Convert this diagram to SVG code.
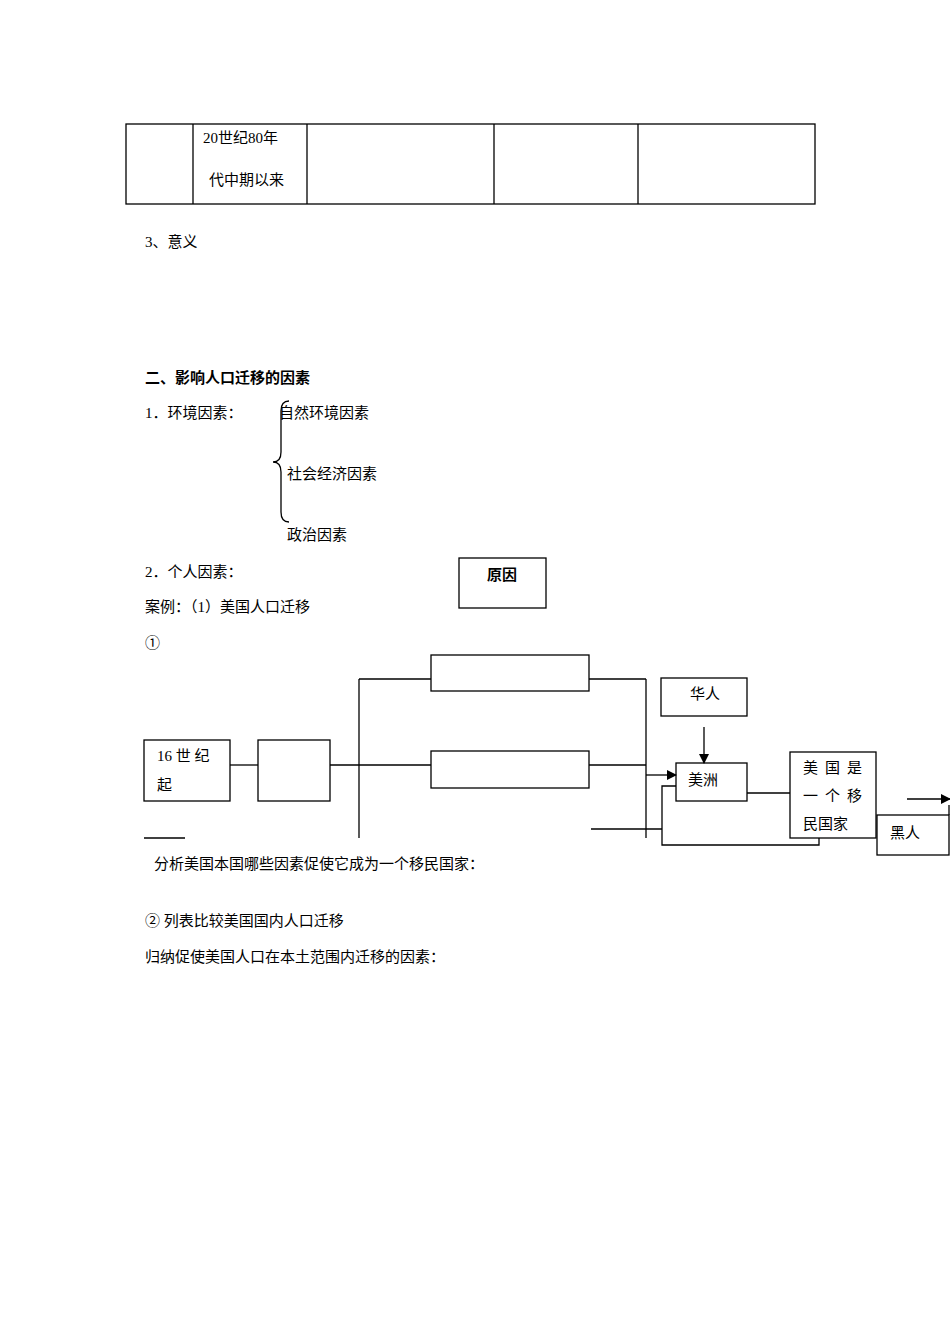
<svg xmlns="http://www.w3.org/2000/svg" width="950" height="1344" viewBox="0 0 950 1344">
<style>
text{font-family:"Liberation Serif","Noto Sans CJK SC",serif;font-size:15px;fill:#000}
.b{font-weight:bold}
rect,line,path,polyline{fill:none;stroke:#000;stroke-width:1.3}
</style>
<defs><marker id="a" markerWidth="10" markerHeight="10" refX="9" refY="5" orient="auto" markerUnits="userSpaceOnUse"><path d="M0,0L10,5L0,10z" style="fill:#000;stroke:none"/></marker></defs>
<rect width="950" height="1344" style="fill:#fff;stroke:none"/>
<g id="table">
<rect x="126" y="124" width="689" height="80"/>
<line x1="193" y1="124" x2="193" y2="204"/><line x1="307" y1="124" x2="307" y2="204"/>
<line x1="494" y1="124" x2="494" y2="204"/><line x1="638" y1="124" x2="638" y2="204"/>
<text x="203" y="143">20世纪80年</text><text x="209" y="185">代中期以来</text>
</g>
<text x="145" y="247">3、意义</text>
<text x="145" y="383" class="b">二、影响人口迁移的因素</text>
<text x="145" y="418">1．环境因素：</text>
<text x="279" y="418">自然环境因素</text>
<text x="287" y="479">社会经济因素</text>
<text x="287" y="540">政治因素</text>
<path d="M289,401 Q281,401 281,411 L281,452 Q281,462 273,462 Q281,462 281,472 L281,512 Q281,522 289,522"/>
<text x="145" y="577">2．个人因素：</text>
<g id="reason"><rect x="459" y="558" width="87" height="50"/><text x="487" y="580" class="b">原因</text></g>
<text x="145" y="612">案例：（1）美国人口迁移</text>
<text x="145" y="648">①</text>
<g id="n16"><rect x="144" y="740" width="86" height="61"/><text x="157" y="761">16 世 纪</text><text x="157" y="790">起</text></g>
<g id="nempty"><rect x="258" y="740" width="72" height="61"/></g>
<g id="ntop"><rect x="431" y="655" width="158" height="36"/></g>
<g id="nmid"><rect x="431" y="751" width="158" height="37"/></g>
<g id="nhua"><rect x="661" y="678" width="86" height="38"/><text x="690" y="699">华人</text></g>
<g id="nmz"><rect x="676" y="763" width="71" height="38"/><text x="688" y="785">美洲</text></g>
<g id="nus"><rect x="790" y="752" width="86" height="86"/><text x="803" y="773" style="letter-spacing:7px">美国是</text><text x="803" y="801" style="letter-spacing:7px">一个移</text><text x="803" y="829">民国家</text></g>
<g id="nblack"><rect x="877" y="815" width="72" height="40"/><text x="890" y="838">黑人</text></g>
<g id="connectors">
<line x1="230" y1="765" x2="258" y2="765"/><line x1="330" y1="765" x2="431" y2="765"/>
<line x1="359" y1="679" x2="359" y2="838"/><line x1="359" y1="679" x2="431" y2="679"/>
<line x1="589" y1="679" x2="646" y2="679"/><line x1="589" y1="765" x2="646" y2="765"/>
<line x1="646" y1="679" x2="646" y2="838"/>
<line x1="646" y1="775" x2="676" y2="775" marker-end="url(#a)"/>
<line x1="704" y1="727" x2="704" y2="763" marker-end="url(#a)"/>
<line x1="747" y1="793" x2="790" y2="793"/>
<line x1="591" y1="829" x2="662" y2="829"/>
<polyline points="676,786 662,786 662,845 819,845 819,838"/>
<line x1="907" y1="799" x2="950" y2="799" marker-end="url(#a)"/>
<line x1="949" y1="805" x2="949" y2="815"/>
<line x1="144" y1="838" x2="185" y2="838"/>
</g>
<text x="154" y="869">分析美国本国哪些因素促使它成为一个移民国家：</text>
<text x="145" y="926">② 列表比较美国国内人口迁移</text>
<text x="145" y="962">归纳促使美国人口在本土范围内迁移的因素：</text>
</svg>
